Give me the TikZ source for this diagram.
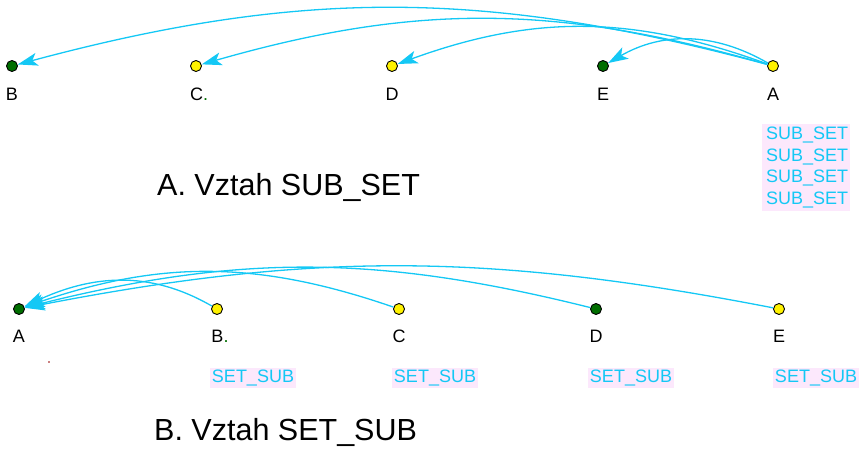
\documentclass[tikz,border=0pt]{standalone}
\usepackage{fontspec}
\setmainfont{Liberation Sans}
\usetikzlibrary{arrows.meta}
\definecolor{edgec}{RGB}{20,200,245}
\definecolor{pinkbg}{RGB}{252,232,252}
\definecolor{dgreen}{RGB}{0,110,0}
\definecolor{dred}{RGB}{150,0,0}
\tikzset{
  vtx/.style={circle,draw=black,line width=0.9pt,minimum size=11pt,inner sep=0pt},
  gv/.style={vtx,fill=dgreen},
  yv/.style={vtx,fill=yellow},
  lbl/.style={font=\fontsize{18}{20}\selectfont,inner sep=0pt},
  rel/.style={font=\fontsize{18}{21.5}\selectfont,text=edgec,fill=pinkbg,inner sep=2pt},
  ttl/.style={font=\fontsize{30.5}{34}\selectfont,inner sep=0pt,anchor=west},
  arc/.style={draw=edgec,line width=1.3pt,-{Stealth[length=20pt,width=13pt,inset=5pt]}}
}
\begin{document}
\begin{tikzpicture}[x=1pt,y=-1pt]
\useasboundingbox (0,0) rectangle (859,448);
% top row
\node[gv] (tB) at (12,66) {};
\node[yv] (tC) at (196,66) {};
\node[yv] (tD) at (392,66) {};
\node[gv] (tE) at (603,66) {};
\node[yv] (tA) at (773,66) {};
\node[lbl] (ltB) at (12,94) {B};
\node[lbl] (ltC) at (199,94) {C\textcolor{dgreen}{.}};
\node[lbl] (ltD) at (392,94) {D};
\node[lbl] (ltE) at (603,94) {E};
\node[lbl] (ltA) at (773,94) {A};
\node[rel,align=left,anchor=north west,inner xsep=4pt,inner ysep=3pt,text width=80pt] (sub) at (762,124)
  {SUB\_SET\\SUB\_SET\\SUB\_SET\\SUB\_SET};
\node[ttl] (tt1) at (157,187) {A. Vztah SUB\_SET};
\draw[arc] (tA) to[bend right=15] (tB);
\draw[arc] (tA) to[bend right=16] (tC);
\draw[arc] (tA) to[bend right=20] (tD);
\draw[arc] (tA) to[out=150,in=30] (tE);
% bottom row
\node[gv] (bA) at (19,309) {};
\node[yv] (bB) at (217,309) {};
\node[yv] (bC) at (399,309) {};
\node[gv] (bD) at (596,309) {};
\node[yv] (bE) at (779,309) {};
\node[lbl] (lbA) at (19,336) {A};
\node[lbl] (lbB) at (220,336) {B\textcolor{dgreen}{.}};
\node[lbl] (lbC) at (399,336) {C};
\node[lbl] (lbD) at (596,336) {D};
\node[lbl] (lbE) at (779,336) {E};
\node[rel] (sB) at (253,378) {SET\_SUB};
\node[rel] (sC) at (435,378) {SET\_SUB};
\node[rel] (sD) at (631,378) {SET\_SUB};
\node[rel] (sE) at (816,378) {SET\_SUB};
\fill[dred] (49,362) circle (0.9pt);
\node[ttl] (tt2) at (154,432) {B. Vztah SET\_SUB};
\draw[arc] (bB) to[out=150,in=25] (bA);
\draw[arc] (bC) to[bend right=19] (bA);
\draw[arc] (bD) to[bend right=14] (bA);
\draw[arc] (bE) to[bend right=11] (bA);
\end{tikzpicture}
\end{document}
